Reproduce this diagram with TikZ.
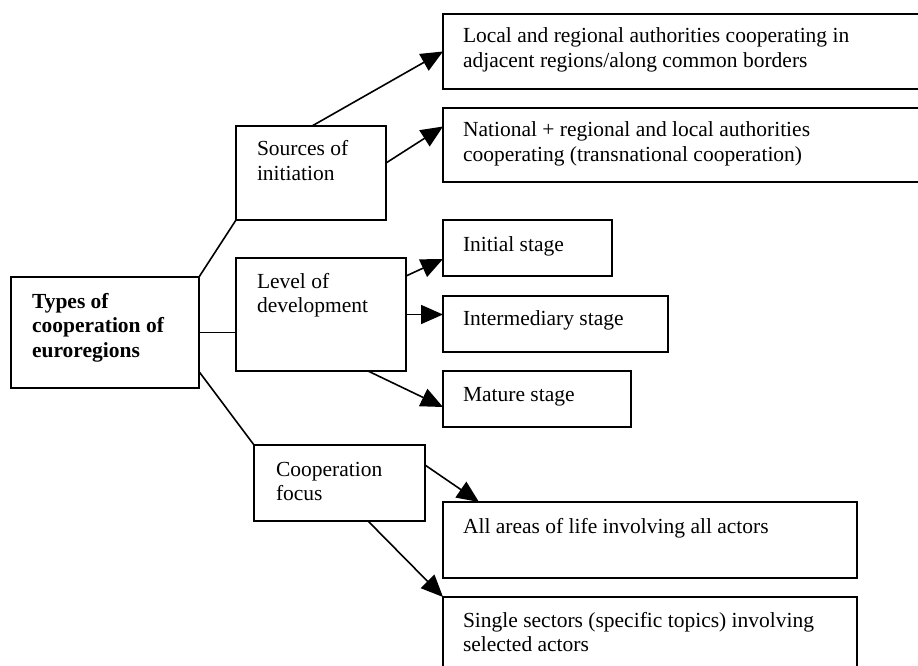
\documentclass[tikz,border=0pt]{standalone}
\usepackage{fontspec}
\setmainfont{Liberation Serif}
\usetikzlibrary{arrows.meta,calc}
\newcommand\mlines[1]{\begin{tabular}[t]{@{}l@{}}#1\end{tabular}}
\begin{document}
\begin{tikzpicture}[x=1pt,y=-1pt,
  box/.style={draw,line width=1.6pt,rectangle,anchor=north west,inner sep=0pt,outer sep=0pt},
  txt/.style={anchor=base west,inner sep=0pt,outer sep=0pt,font=\fontsize{21.5}{24.5}\selectfont},
  con/.style={line width=1.6pt},
  arr/.style={line width=1.6pt,-{Triangle[length=22pt,width=19pt]}}]
\useasboundingbox (0,0) rectangle (918,666);
\clip (0,0) rectangle (918,666);
\fill[white] (0,0) rectangle (918,666);
% boxes
\node[box,minimum width=188pt,minimum height=111pt] (types) at (11,277) {};
\node[box,minimum width=150pt,minimum height=94pt] (src) at (236,126) {};
\node[box,minimum width=170pt,minimum height=113pt] (lev) at (236,258) {};
\node[box,minimum width=171pt,minimum height=76pt] (coop) at (254,445) {};
\node[box,minimum width=500pt,minimum height=75pt] (loc) at (443,14) {};
\node[box,minimum width=500pt,minimum height=74pt] (nat) at (443,108) {};
\node[box,minimum width=169pt,minimum height=56pt] (ini) at (443,220) {};
\node[box,minimum width=225pt,minimum height=56pt] (inter) at (443,296) {};
\node[box,minimum width=188pt,minimum height=56pt] (mat) at (443,371) {};
\node[box,minimum width=414pt,minimum height=76pt] (all) at (443,502) {};
\node[box,minimum width=414pt,minimum height=100pt] (sing) at (443,597) {};
% texts
\node[txt,font=\fontsize{21.5}{24.5}\selectfont\bfseries] (ttypes) at (32,308) {\mlines{Types of\\cooperation of\\euroregions}};
\node[txt] (tsrc) at (257,156) {\mlines{Sources of\\initiation}};
\node[txt] (tlev) at (257,288) {\mlines{Level of\\development}};
\node[txt] (tcoop) at (276,476) {\mlines{Cooperation\\focus}};
\node[txt] (tloc) at (463,43) {\mlines{Local and regional authorities cooperating in\\adjacent regions/along common borders}};
\node[txt] (tnat) at (463,137) {\mlines{National + regional and local authorities\\cooperating (transnational cooperation)}};
\node[txt] (tini) at (463,251) {Initial stage};
\node[txt] (tinter) at (463,325) {Intermediary stage};
\node[txt] (tmat) at (463,401) {Mature stage};
\node[txt] (tall) at (463,533) {All areas of life involving all actors};
\node[txt] (tsing) at (463,627) {\mlines{Single sectors (specific topics) involving\\selected actors}};
% connectors from the main box
\draw[con] (types.north east) -- (src.south west);
\draw[con] (types.east) -- (lev.west |- types.east);
\draw[con] ([yshift=-39pt]types.east) -- (coop.north west);
% sources
\draw[arr] ([xshift=1pt]src.north) -- (loc.west);
\draw[arr] ([yshift=10pt]src.east) -- ($(nat.north west)!0.25!(nat.south west)$);
% level
\draw[arr] ([yshift=-18pt]lev.north east) -- ([yshift=-39pt]ini.north west);
\draw[arr] (lev.east) -- (inter.west |- lev.east);
\draw[arr] ([xshift=132pt]lev.south west) -- ([yshift=-36pt]mat.north west);
% cooperation focus
\draw[arr] ([yshift=-20pt]coop.north east) -- ([xshift=36pt]all.north west);
\draw[arr] ([xshift=114pt]coop.south west) -- (sing.north west);
\end{tikzpicture}
\end{document}
